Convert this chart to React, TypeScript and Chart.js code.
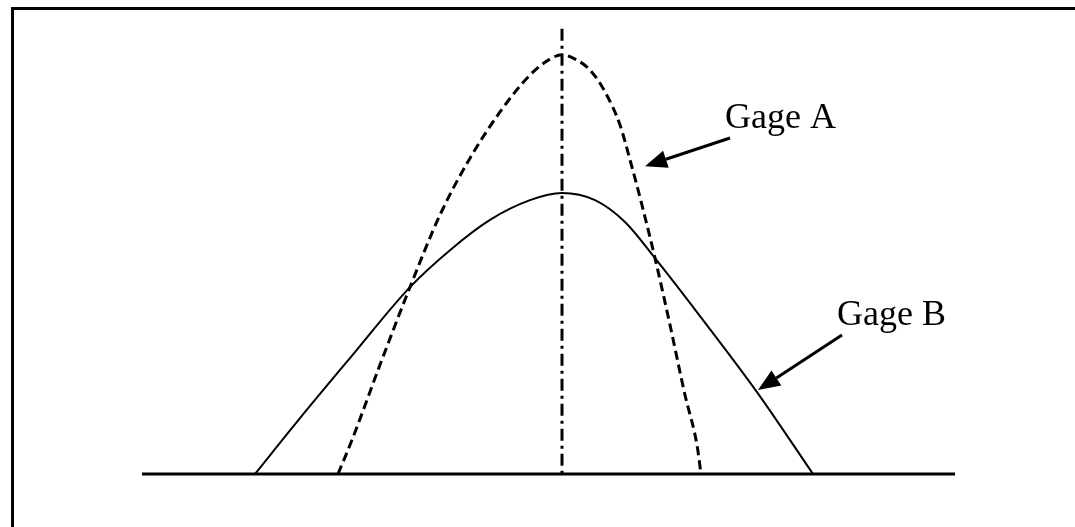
import React, { useEffect, useRef } from "react";
import { Chart, registerables } from "chart.js";

Chart.register(...registerables);

// Gage A (dashed, narrow distribution): x = deviation, y = relative frequency
const gageAX = [-4.48, -4.2, -3.64, -3.04, -2.44, -1.84, -1.24, -0.64, -0.24, 0, 0.26, 0.56, 0.86, 1.16, 1.36, 1.6, 1.86, 2.16, 2.46, 2.7, 2.78];
const gageAY = [0, 8.1, 26.0, 44.5, 61.7, 75.2, 86.2, 95.0, 98.8, 99.8, 98.8, 96.2, 91.0, 83.1, 74.8, 64.0, 51.4, 35.5, 18.8, 6.9, 0];

// Gage B (solid, wide distribution)
const gageBX = [-6.14, -5.24, -4.24, -3.04, -2.24, -1.44, -0.64, 0, 0.66, 1.26, 1.86, 2.76, 3.9, 5.02];
const gageBY = [0, 13.3, 27.6, 44.5, 53.3, 60.5, 65.2, 66.9, 65.2, 60.0, 51.4, 37.6, 19.5, 0];

// Baseline and center reference line
const baselineX = [-8.4, 7.86];
const centerTop = 106;

// Labels: text, anchor (x, y) and arrow from -> to
const labelTexts = ["Gage A", "Gage B"];
const labelX = [3.26, 5.5];
const labelY = [82.4, 35.5];
const arrowFromX = [3.36, 5.6];
const arrowFromY = [80, 33.1];
const arrowToX = [1.66, 3.92];
const arrowToY = [73.3, 20];

const xMin = -11.24;
const xMax = 10.26;
const yMin = -12.62;
const yMax = 112.86;

const toPts = (xs: number[], ys: number[]) => xs.map((x, i) => ({ x, y: ys[i] }));

const annotationPlugin = {
  id: "gageAnnotations",
  afterDatasetsDraw(chart: any) {
    const ctx = chart.ctx;
    const xs = chart.scales.x;
    const ys = chart.scales.y;
    ctx.save();
    // frame
    ctx.fillStyle = "#000";
    ctx.fillRect(11, 7, 3, chart.height);
    ctx.fillRect(11, 7, chart.width, 3);

    ctx.font = '36px "Liberation Serif", "Times New Roman", serif';
    ctx.textBaseline = "alphabetic";
    ctx.textAlign = "left";
    labelTexts.forEach((t, i) => {
      ctx.fillText(t, xs.getPixelForValue(labelX[i]), ys.getPixelForValue(labelY[i]));
      const x1 = xs.getPixelForValue(arrowFromX[i]);
      const y1 = ys.getPixelForValue(arrowFromY[i]);
      const x2 = xs.getPixelForValue(arrowToX[i]);
      const y2 = ys.getPixelForValue(arrowToY[i]);
      const ang = Math.atan2(y2 - y1, x2 - x1);
      const headLen = 22;
      const headW = 9;
      const bx = x2 - headLen * Math.cos(ang);
      const by = y2 - headLen * Math.sin(ang);
      ctx.strokeStyle = "#000";
      ctx.lineWidth = 3;
      ctx.setLineDash([]);
      ctx.beginPath();
      ctx.moveTo(x1, y1);
      ctx.lineTo(bx, by);
      ctx.stroke();
      ctx.beginPath();
      ctx.moveTo(x2, y2);
      ctx.lineTo(bx + headW * Math.sin(ang), by - headW * Math.cos(ang));
      ctx.lineTo(bx - headW * Math.sin(ang), by + headW * Math.cos(ang));
      ctx.closePath();
      ctx.fill();
    });
    ctx.restore();
  },
};

export default function App() {
  const ref = useRef<HTMLCanvasElement>(null);
  useEffect(() => {
    if (!ref.current) return;
    const chart = new Chart(ref.current, {
      type: "line",
      data: {
        datasets: [
          {
            label: "Baseline",
            data: toPts(baselineX, [0, 0]),
            borderColor: "#000",
            borderWidth: 3,
            pointRadius: 0,
          },
          {
            label: "Center",
            data: [{ x: 0, y: centerTop }, { x: 0, y: 0 }],
            borderColor: "#000",
            borderWidth: 3,
            borderDash: [12, 5, 3, 5],
            pointRadius: 0,
          },
          {
            label: "Gage B",
            data: toPts(gageBX, gageBY),
            borderColor: "#000",
            borderWidth: 2,
            pointRadius: 0,
            cubicInterpolationMode: "monotone",
          },
          {
            label: "Gage A",
            data: toPts(gageAX, gageAY),
            borderColor: "#000",
            borderWidth: 3,
            borderDash: [9, 5],
            pointRadius: 0,
            cubicInterpolationMode: "monotone",
          },
        ],
      },
      options: {
        animation: false,
        responsive: false,
        events: [],
        layout: { padding: 0 },
        scales: {
          x: { type: "linear", min: xMin, max: xMax, display: false },
          y: { type: "linear", min: yMin, max: yMax, display: false },
        },
        plugins: { legend: { display: false }, tooltip: { enabled: false } },
      },
      plugins: [annotationPlugin],
    } as any);
    return () => chart.destroy();
  }, []);
  return (
    <canvas
      ref={ref}
      width={1075}
      height={527}
      style={{ position: "fixed", left: 0, top: 0, width: 1075, height: 527, background: "#fff" }}
    />
  );
}
